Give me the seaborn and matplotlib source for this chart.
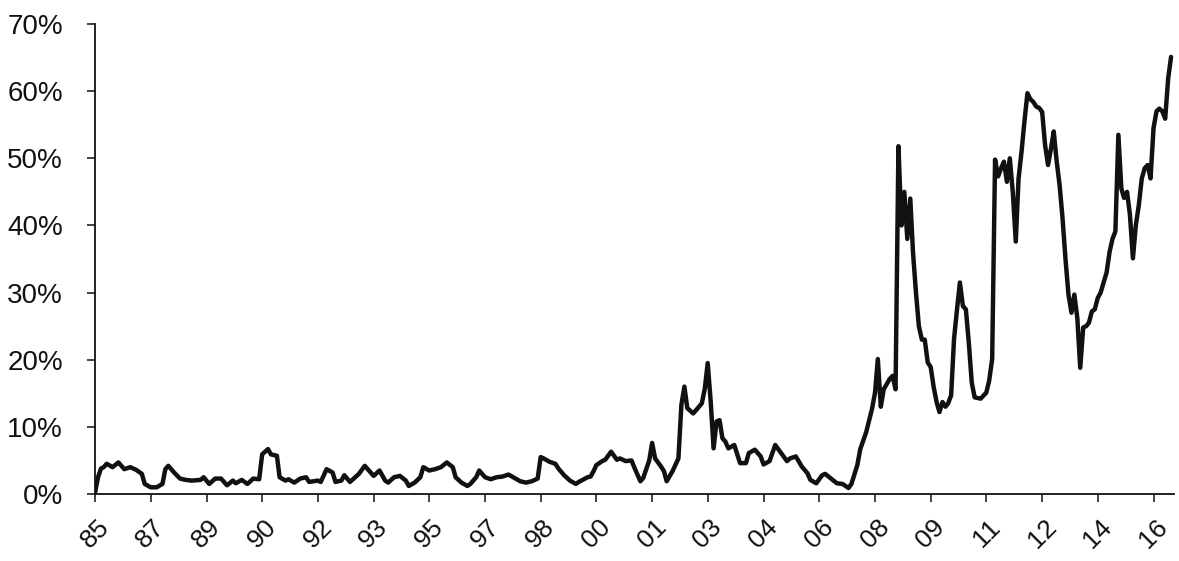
import matplotlib
matplotlib.use("Agg")
import matplotlib.pyplot as plt
import matplotlib.dates as mdates
from matplotlib.ticker import FuncFormatter
import seaborn as sns
import pandas as pd

# ---- data (months counted from Dec 1985, share in %) ----
start_month = "1985-12-01"
months = [0, 1, 2, 3, 4, 6, 8, 10, 12, 14, 16, 17, 19, 21, 23, 24, 25, 27, 29, 31,
          33, 36, 37, 39, 41, 43, 45, 47, 48, 50, 52, 54, 56, 57, 59, 60, 62, 63, 65, 66,
          68, 70, 72, 73, 76, 77, 79, 81, 82, 84, 85, 87, 90, 92, 94, 95, 97, 99, 100, 102,
          104, 106, 107, 109, 111, 112, 114, 116, 118, 120, 122, 123, 125, 127, 128, 130, 131, 133, 135, 137,
          139, 141, 143, 145, 147, 149, 151, 152, 153, 155, 157, 158, 160, 162, 164, 165, 168, 169, 170, 171,
          173, 174, 176, 178, 179, 181, 183, 184, 186, 187, 189, 190, 191, 193, 194, 195, 197, 199, 200, 201,
          202, 204, 205, 207, 208, 209, 210, 211, 212, 213, 214, 215, 216, 218, 220, 222, 223, 225, 227, 228,
          230, 232, 234, 236, 237, 239, 241, 243, 244, 246, 248, 249, 251, 253, 255, 257, 258, 260, 261, 263,
          265, 266, 267, 268, 269, 271, 272, 273, 274, 275, 276, 277, 278, 279, 280, 281, 282, 283, 284, 285,
          286, 287, 288, 289, 290, 291, 292, 293, 294, 295, 296, 297, 298, 299, 300, 302, 304, 305, 306, 307,
          308, 309, 310, 311, 312, 313, 314, 315, 316, 317, 318, 319, 320, 321, 322, 323, 324, 325, 326, 327,
          328, 329, 330, 331, 332, 333, 334, 335, 336, 337, 338, 339, 340, 341, 342, 343, 344, 345, 346, 347,
          348, 349, 350, 351, 352, 353, 354, 355, 356, 357, 358, 359, 360, 361, 362, 363, 364, 365, 366, 367]
share = [0.2, 2.5, 3.8, 4.0, 4.5, 4.0, 4.7, 3.7, 4.0, 3.6, 3.0, 1.5, 1.0, 1.0, 1.5, 3.7, 4.2, 3.2, 2.3, 2.1,
         2.0, 2.1, 2.5, 1.5, 2.3, 2.3, 1.3, 2.0, 1.6, 2.1, 1.5, 2.3, 2.2, 5.9, 6.7, 5.9, 5.7, 2.5, 2.0, 2.2,
         1.7, 2.3, 2.5, 1.8, 2.0, 1.8, 3.7, 3.2, 1.8, 2.0, 2.8, 1.8, 3.0, 4.2, 3.2, 2.7, 3.5, 2.0, 1.7, 2.5,
         2.7, 2.0, 1.2, 1.7, 2.5, 4.0, 3.5, 3.7, 4.0, 4.7, 4.0, 2.5, 1.7, 1.2, 1.5, 2.5, 3.5, 2.5, 2.2, 2.5,
         2.6, 2.9, 2.4, 1.9, 1.7, 1.9, 2.3, 5.5, 5.3, 4.8, 4.5, 3.8, 2.8, 2.0, 1.5, 1.8, 2.5, 2.6, 3.4, 4.3,
         4.9, 5.1, 6.3, 5.1, 5.3, 4.9, 5.0, 3.9, 1.9, 2.4, 5.0, 7.6, 5.3, 4.1, 3.4, 1.9, 3.4, 5.3, 13.3, 16.0,
         12.8, 12.0, 12.5, 13.5, 15.7, 19.5, 13.8, 6.8, 10.8, 11.0, 8.3, 7.8, 6.8, 7.3, 4.6, 4.6, 6.1, 6.6, 5.6, 4.4,
         4.9, 7.3, 6.1, 4.9, 5.3, 5.6, 4.1, 3.1, 2.1, 1.6, 2.8, 3.0, 2.3, 1.6, 1.5, 0.9, 1.5, 4.3, 6.7, 9.2,
         12.7, 15.1, 20.1, 13.0, 15.6, 17.1, 17.6, 15.6, 51.8, 40.0, 45.0, 38.0, 44.0, 36.0, 30.0, 25.0, 23.0, 23.0, 19.6, 18.9,
         16.0, 13.7, 12.2, 13.7, 13.0, 13.5, 14.7, 23.1, 27.5, 31.5, 28.0, 27.5, 22.6, 16.6, 14.4, 14.2, 15.1, 16.9, 20.1, 49.8,
         47.3, 48.5, 49.5, 46.5, 50.0, 45.0, 37.6, 47.0, 51.0, 55.5, 59.7, 58.8, 58.4, 57.7, 57.5, 56.9, 52.0, 49.0, 51.5, 54.0,
         49.5, 46.0, 41.0, 35.0, 29.7, 27.0, 29.7, 26.2, 18.8, 24.8, 25.0, 25.5, 27.2, 27.5, 29.2, 30.0, 31.5, 33.0, 36.0, 38.0,
         39.1, 53.5, 45.5, 44.1, 45.0, 41.6, 35.1, 40.0, 43.0, 47.0, 48.5, 49.0, 47.0, 54.5, 57.0, 57.4, 57.0, 55.9, 61.9, 65.1]
tick_step_months = 19
n_ticks = 20
y_ticks = [0, 10, 20, 30, 40, 50, 60, 70]

start = pd.Timestamp(start_month)
dates = [start + pd.DateOffset(months=int(m)) for m in months]
df = pd.DataFrame({"date": dates, "share": share})

sns.set_theme(style="ticks")
plt.rcParams["font.family"] = ["Liberation Sans", "DejaVu Sans"]

fig = plt.figure(figsize=(11.79, 5.61), dpi=100)
ax = fig.add_axes([0.0806, 0.1194, 0.9152, 0.8378])

sns.lineplot(data=df, x="date", y="share", ax=ax, color="#111111", linewidth=3.2)

tick_dates = [start + pd.DateOffset(months=tick_step_months * k) for k in range(n_ticks)]
ax.set_xticks(tick_dates)
ax.xaxis.set_major_formatter(mdates.DateFormatter("%y"))
ax.set_xlim(start, start + pd.DateOffset(months=368))
ax.set_ylim(0, 70)
ax.set_yticks(y_ticks)
ax.yaxis.set_major_formatter(FuncFormatter(lambda v, p: f"{v:.0f}%"))

ax.set_xlabel("")
ax.set_ylabel("")
for s in ["top", "right"]:
    ax.spines[s].set_visible(False)
for s in ["left", "bottom"]:
    ax.spines[s].set_color("#111111")
    ax.spines[s].set_linewidth(1.3)

ax.tick_params(axis="y", direction="out", length=6, width=1.1, color="#111111",
               labelsize=20, labelcolor="#111111", pad=17)
ax.tick_params(axis="x", direction="out", length=6, width=1.1, color="#111111",
               labelsize=19, labelcolor="#111111", pad=9)
for lbl in ax.get_xticklabels():
    lbl.set_rotation(45)
    lbl.set_ha("center")

ax.grid(False)
fig.savefig("out.png", dpi=100, facecolor="white")
